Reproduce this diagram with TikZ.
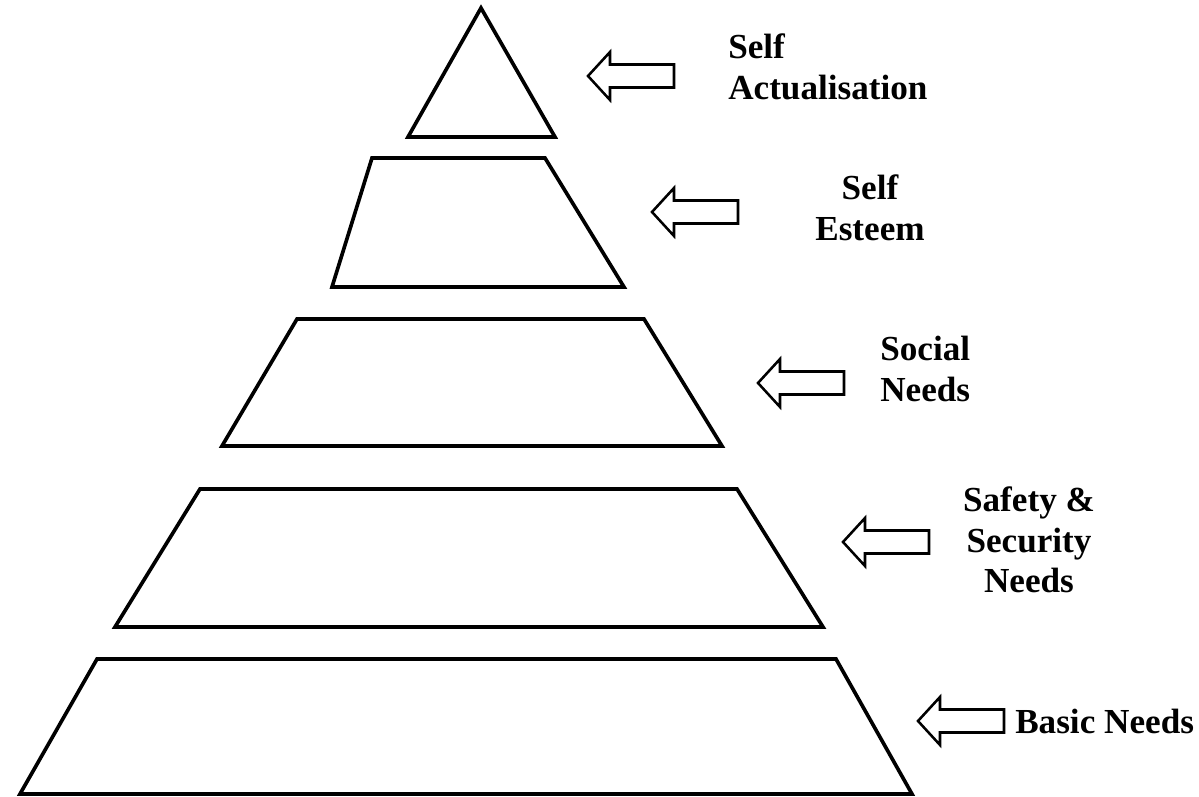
\documentclass[tikz,border=0pt]{standalone}
\usepackage{fontspec}
\setmainfont{Liberation Serif}
\usetikzlibrary{positioning}

\begin{document}
\begin{tikzpicture}[x=0.025cm,y=0.025cm]

	% 定义样式
	\tikzset{
		level/.style = {line width=2.6pt, line join=miter},
		blockarrow/.style = {line width=1.8pt, line join=miter, fill=white},
		label/.style = {font=\fontsize{25}{29}\selectfont\bfseries, inner sep=0pt}
	}

	\useasboundingbox (0,0) rectangle (1199,797);

	% 金字塔各层
	\draw[level] (481,789) -- (555,660) -- (408,660) -- cycle;
	\draw[level] (372,639) -- (545,639) -- (624,510) -- (332,510) -- cycle;
	\draw[level] (297,478) -- (644,478) -- (722,351) -- (222,351) -- cycle;
	\draw[level] (200,308) -- (737,308) -- (823,170) -- (115,170) -- cycle;
	\draw[level] (97,138) -- (836,138) -- (912,3) -- (20,3) -- cycle;

	% 箭头
	\foreach \x/\y in {588/721, 652/585, 758/414, 843/255, 918/76} {
		\draw[blockarrow] (\x,\y) -- ++(22,24) -- ++(0,-12.5) -- ++(64,0)
			-- ++(0,-23) -- ++(-64,0) -- ++(0,-12.5) -- cycle;
	}

	% 标签
	\node[label, anchor=west, align=left] (selfact) at (728,730) {Self\\Actualisation};
	\node[label, align=center] (esteem) at (870,589) {Self\\Esteem};
	\node[label, anchor=west, align=left] (social) at (880,428) {Social\\Needs};
	\node[label, align=center] (safety) at (1029,257) {Safety \&\\Security\\Needs};
	\node[label, anchor=west] (basic) at (1015,76) {Basic Needs};

\end{tikzpicture}
\end{document}
